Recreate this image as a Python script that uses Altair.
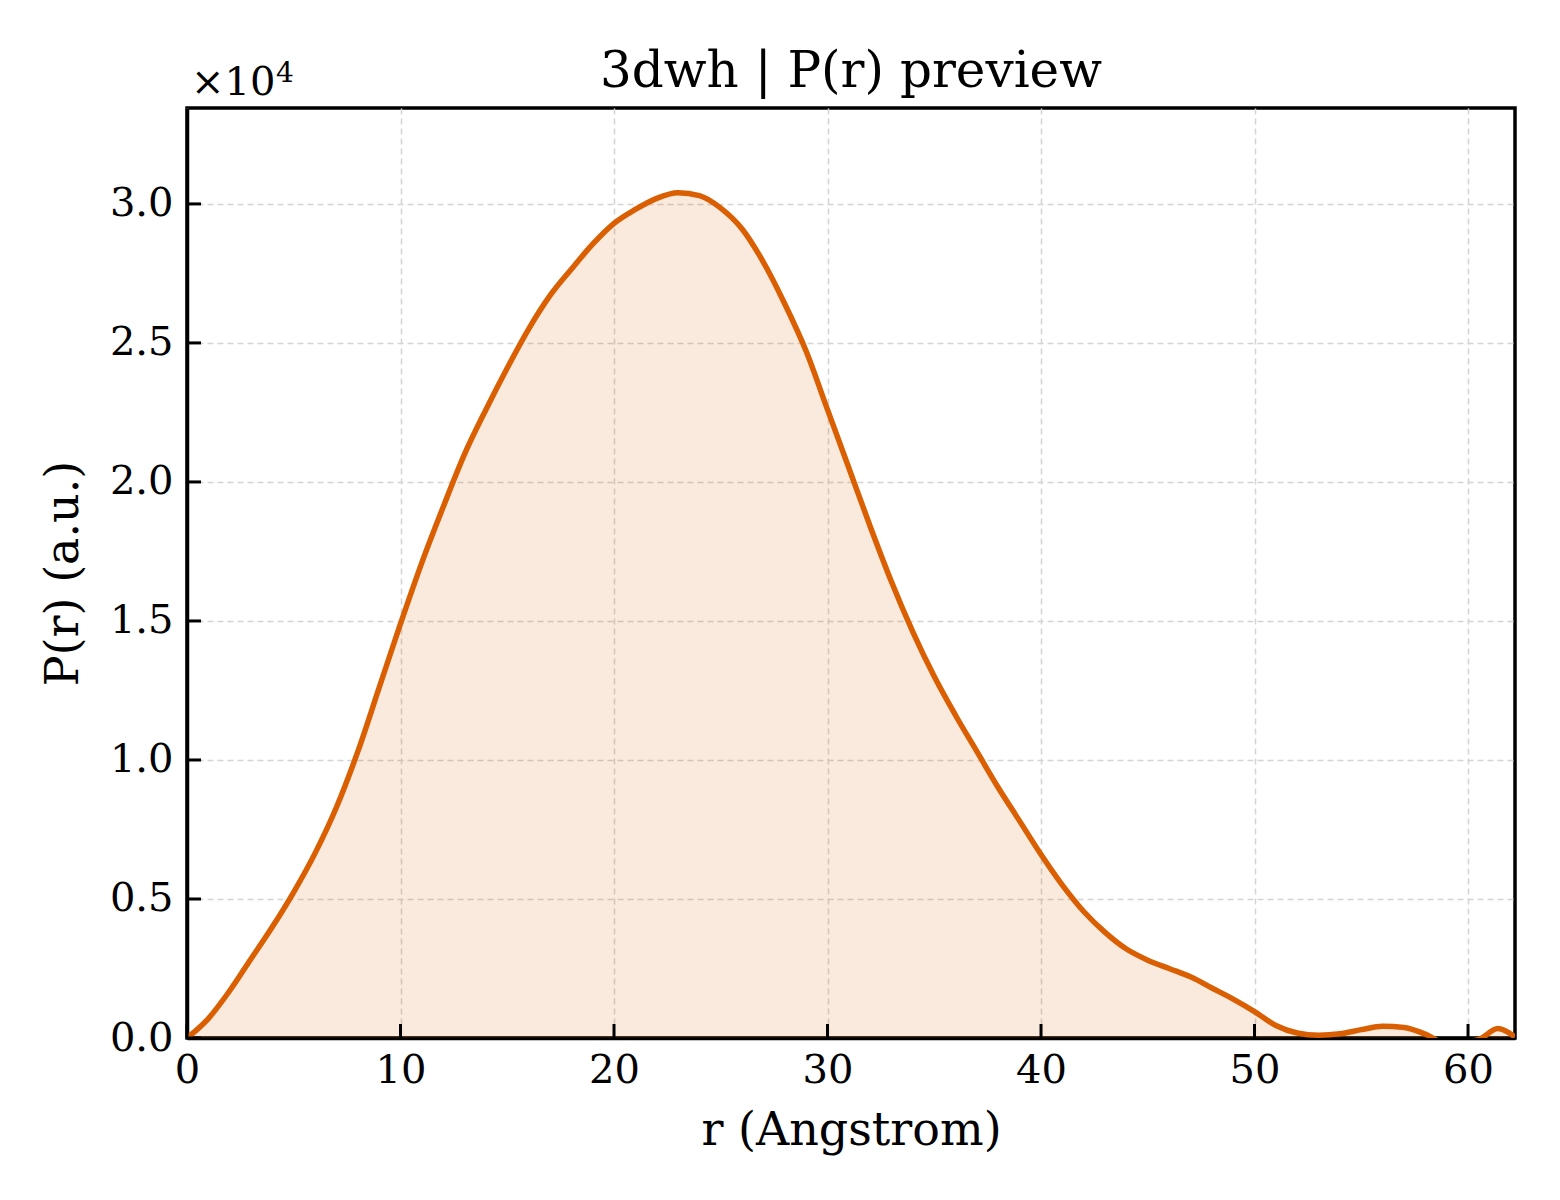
import pandas as pd
import altair as alt

"""
P(r) preview chart: pair distance distribution of 3dwh.
"""

r_values = [
    0, 1, 2, 3, 4, 5, 6, 7, 8, 9,
    10, 11, 12, 13, 14, 15, 16, 17, 18, 19,
    20, 21, 22, 23, 24, 25, 26, 27, 28, 29,
    30, 31, 32, 33, 34, 35, 36, 37, 38, 39,
    40, 41, 42, 43, 44, 45, 46, 47, 48, 49,
    50, 51, 52, 53, 54, 55, 56, 57, 58, 59,
    60.5, 61.4, 62.2,
]
pr_values = [
    0, 700, 1700, 2850, 4000, 5250, 6650, 8300, 10300, 12600,
    14900, 17100, 19100, 21000, 22600, 24100, 25500, 26700, 27650, 28550,
    29300, 29800, 30200, 30400, 30300, 29850, 29100, 27900, 26400, 24700,
    22600, 20500, 18400, 16400, 14600, 13000, 11600, 10300, 9000, 7800,
    6600, 5500, 4550, 3800, 3200, 2800, 2500, 2200, 1800, 1400,
    950, 450, 180, 100, 150, 300, 420, 380, 140, -200,
    -50, 340, 40,
]

x_ticks = [0, 10, 20, 30, 40, 50, 60]
y_ticks = [0, 5000, 10000, 15000, 20000, 25000, 30000]

x_domain = [0, 62.2]
y_domain = [0, 33450]

title_text = "3dwh | P(r) preview"

FONT = "DejaVu Serif"
LINE_COLOR = "#d95f02"
W, H = 1328, 930


def make_pr_chart():
    """Line + light fill of P(r), matplotlib-like frame with inward ticks."""
    source = pd.DataFrame({"r": r_values, "pr": pr_values})

    x_enc = alt.X(
        "r:Q",
        scale=alt.Scale(domain=x_domain, nice=False, zero=False),
        axis=alt.Axis(
            values=x_ticks,
            format="d",
            title="r (Angstrom)",
            ticks=False,
            labelFlush=False,
            labelPadding=12,
            titlePadding=18,
        ),
    )
    y_enc = alt.Y(
        "pr:Q",
        scale=alt.Scale(domain=y_domain, nice=False),
        axis=alt.Axis(
            values=y_ticks,
            labelExpr="format(datum.value / 10000, '.1f')",
            title="P(r) (a.u.)",
            ticks=False,
            labelFlush=False,
            labelPadding=14,
            titlePadding=22,
        ),
    )

    area = (
        alt.Chart(source)
        .mark_area(color=LINE_COLOR, opacity=0.13, clip=True, interpolate="monotone")
        .encode(x=x_enc, y=y_enc)
    )
    line = (
        alt.Chart(source)
        .mark_line(
            color=LINE_COLOR, strokeWidth=5.5, clip=True, strokeJoin="round",
            interpolate="monotone",
        )
        .encode(x=x_enc, y=y_enc)
    )

    # inward ticks, drawn as short rules on the bottom and left spines
    xt = (
        alt.Chart(pd.DataFrame({"t": x_ticks}))
        .mark_rule(color="black", strokeWidth=3)
        .encode(x="t:Q", y=alt.value(H), y2=alt.value(H - 14))
    )
    yt = (
        alt.Chart(pd.DataFrame({"t": y_ticks}))
        .mark_rule(color="black", strokeWidth=3)
        .encode(y="t:Q", x=alt.value(0), x2=alt.value(14))
    )

    # offset text "×10^4" above the y axis
    times_ten = (
        alt.Chart(pd.DataFrame({"label": ["×10"]}))
        .mark_text(align="left", baseline="alphabetic", font=FONT, fontSize=40, color="black")
        .encode(text="label:N", x=alt.value(4), y=alt.value(-13))
    )
    exponent = (
        alt.Chart(pd.DataFrame({"label": ["4"]}))
        .mark_text(align="left", baseline="alphabetic", font=FONT, fontSize=28, color="black")
        .encode(text="label:N", x=alt.value(89), y=alt.value(-26))
    )

    title = (
        alt.Chart(pd.DataFrame({"label": [title_text]}))
        .mark_text(align="center", baseline="alphabetic", font=FONT, fontSize=50, color="black")
        .encode(text="label:N", x=alt.value(W / 2), y=alt.value(-21))
    )

    chart = (
        alt.layer(area, line, xt, yt, times_ten, exponent, title)
        .properties(
            width=W,
            height=H,
            autosize=alt.AutoSizeParams(type="none"),
            padding={"left": 179, "top": 100, "right": 37, "bottom": 150},
            background="white",
        )
        .configure_view(stroke="black", strokeWidth=3.5)
        .configure_axis(
            labelFont=FONT,
            labelFontSize=40,
            labelColor="black",
            titleFont=FONT,
            titleFontSize=46,
            titleFontWeight="normal",
            titleColor="black",
            domainColor="black",
            domainWidth=3.5,
            grid=True,
            gridColor="#d4d4d4",
            gridDash=[6, 4],
            gridWidth=1.5,
        )
    )
    return chart


chart = make_pr_chart()
chart.save("out.html", embed_options={"renderer": "svg", "actions": False})
